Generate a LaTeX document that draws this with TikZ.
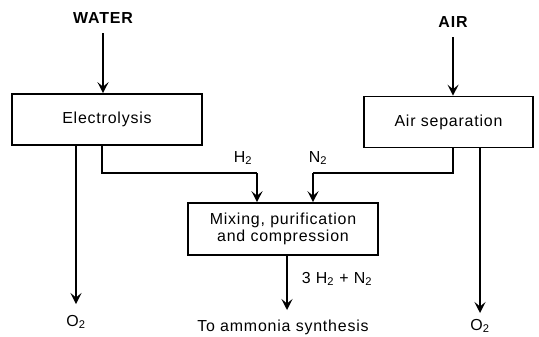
\documentclass[tikz,border=0pt]{standalone}
\usepackage{fontspec}
\setmainfont{Liberation Sans}[LetterSpace=5]
\usetikzlibrary{arrows.meta}
\tikzset{
  txt/.style={font=\fontsize{16}{17}\selectfont},
  proc/.style={draw, line width=1.6bp, minimum width=#1, minimum height=51bp, inner sep=0pt, align=center, txt},
  lbl/.style={inner sep=0pt, txt},
  flow/.style={line width=1.6bp, -{Stealth[length=11bp,width=11bp,inset=4.5bp]}},
  pipe/.style={line width=1.6bp}
}
\begin{document}
\begin{tikzpicture}[x=1bp,y=-1bp]
\useasboundingbox (0,0) rectangle (539,336);
% process boxes
\node[proc=190bp] (elec) at (107,119.5) {Electrolysis};
\node[proc=169bp] (airsep) at (448.5,122) {Air separation};
\node[proc=190bp, minimum height=52bp] (mix) at (283,229) {Mixing, purification\\and compression};
% labels
\node[lbl, font=\fontsize{16}{17}\selectfont\bfseries] (water) at (103,18) {WATER};
\node[lbl, font=\fontsize{16}{17}\selectfont\bfseries] (air) at (453,22) {AIR};
\node[lbl] (h2) at (243,158) {H\textsubscript{2}};
\node[lbl] (n2) at (318,158) {N\textsubscript{2}};
\node[lbl] (o2a) at (76,322) {O\textsubscript{2}};
\node[lbl] (o2b) at (480,326) {O\textsubscript{2}};
\node[lbl] (mixout) at (337,279) {3 H\textsubscript{2} + N\textsubscript{2}};
\node[lbl] (nh3) at (283,327) {To ammonia synthesis};
% helper coordinates
\coordinate (wtop) at (103,33);
\coordinate (atop) at (453,37);
\coordinate (o2aend) at (76,304);
\coordinate (o2bend) at (480,313);
\coordinate (h2a) at (102,173);
\coordinate (h2b) at (257,173);
\coordinate (n2a) at (453,173);
\coordinate (n2b) at (313,173);
\coordinate (outtop) at (287,255);
\coordinate (outend) at (287,310);
% connectors
\draw[flow] (wtop) -- (wtop |- elec.north);
\draw[flow] (atop) -- (atop |- airsep.north);
\draw[flow] (o2aend |- elec.south) -- (o2aend);
\draw[flow] (o2bend |- airsep.south) -- (o2bend);
\draw[pipe] (h2a |- elec.south) -- (h2a) -- (h2b);
\draw[flow] (h2b) -- (h2b |- mix.north);
\draw[pipe] (n2a |- airsep.south) -- (n2a) -- (n2b);
\draw[flow] (n2b) -- (n2b |- mix.north);
\draw[flow] (outtop |- mix.south) -- (outend);
\end{tikzpicture}
\end{document}
